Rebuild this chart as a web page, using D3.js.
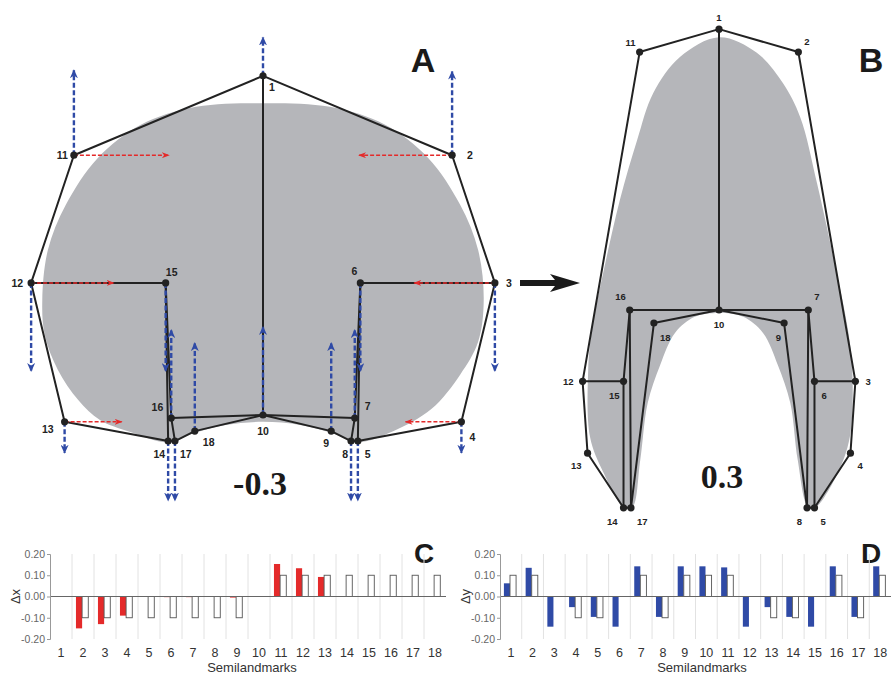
<!DOCTYPE html>
<html>
<head>
<meta charset="utf-8">
<script src="https://cdn.jsdelivr.net/npm/d3@7"></script>
<style>
  body { margin: 0; background: #fff; }
  text { font-family: "Liberation Sans", Arial, sans-serif; }
</style>
</head>
<body>
<div id="root"></div>
<script>
// ---- data ----
const semilandmarks = d3.range(1, 19).map(String);

// displacement of each semilandmark (shape units)
const deltaX = [0, -0.15, -0.13, -0.09, -0.001, -0.003, -0.003, -0.002, -0.005, 0, 0.153, 0.133, 0.092, -0.002, 0, 0.002, -0.002, 0.002];
const deltaY = [0.062, 0.135, -0.142, -0.05, -0.096, -0.142, 0.142, -0.096, 0.142, 0.142, 0.137, -0.142, -0.05, -0.096, -0.142, 0.142, -0.096, 0.142];
// reference (white) bars, null = no bar
const refX = [null, -0.1, -0.1, -0.1, -0.1, -0.1, -0.1, -0.1, -0.1, null, 0.1, 0.1, 0.1, 0.1, 0.1, 0.1, 0.1, 0.1];
const refY = [0.1, 0.1, null, -0.1, -0.1, null, 0.1, -0.1, 0.1, 0.1, 0.1, null, -0.1, -0.1, null, 0.1, -0.1, 0.1];
const yTicks = [-0.2, -0.1, 0, 0.1, 0.2];

// landmark configurations, shape units, landmark 10 at origin, y up
const shapeAx = [0, 0.305, 0.374, 0.320, 0.153, 0.157, 0.148, 0.142, 0.110, 0, -0.305, -0.374, -0.320, -0.153, -0.157, -0.148, -0.142, -0.110];
const shapeAy = [0.547, 0.419, 0.213, -0.011, -0.042, 0.213, -0.005, -0.042, -0.026, 0, 0.419, 0.213, -0.011, -0.042, 0.213, -0.005, -0.042, -0.026];
const shapeBx = [0, 0.128, 0.220, 0.212, 0.154, 0.154, 0.144, 0.142, 0.105, 0, -0.128, -0.220, -0.212, -0.154, -0.154, -0.144, -0.142, -0.105];
const shapeBy = [0.453, 0.416, -0.115, -0.231, -0.319, -0.115, 0, -0.319, -0.021, 0, 0.416, -0.115, -0.231, -0.319, -0.115, 0, -0.319, -0.021];

const links = [[1,2],[2,3],[3,4],[4,5],[5,8],[8,9],[9,10],[10,18],[18,17],[17,14],[14,13],[13,12],[12,11],[11,1],
  [1,10],[16,10],[10,7],[12,15],[15,16],[15,14],[16,17],[3,6],[6,7],[6,5],[7,8]];

// grey outlines (shape units)
const blobA = [[0,0.503],[0.108,0.497],[0.197,0.468],[0.266,0.415],[0.318,0.339],[0.347,0.266],[0.356,0.185],[0.347,0.118],
  [0.318,0.065],[0.272,0.010],[0.208,-0.027],[0.152,-0.044],[0.111,-0.029],[0.060,-0.016],[0,-0.011],[-0.060,-0.016],
  [-0.111,-0.029],[-0.153,-0.044],[-0.215,-0.027],[-0.263,-0.008],[-0.298,0.024],[-0.331,0.073],[-0.352,0.129],
  [-0.356,0.185],[-0.347,0.266],[-0.318,0.339],[-0.266,0.415],[-0.197,0.468],[-0.108,0.497]];
const blobB = [[0,0.440],[0.061,0.415],[0.103,0.366],[0.131,0.311],[0.158,0.205],[0.187,0.073],[0.208,-0.032],[0.215,-0.097],
  [0.211,-0.205],[0.190,-0.266],[0.155,-0.319],[0.144,-0.319],[0.127,-0.242],[0.115,-0.150],[0.095,-0.089],[0.071,-0.037],
  [0.039,-0.011],[0,-0.005],[-0.039,-0.011],[-0.071,-0.037],[-0.095,-0.089],[-0.115,-0.150],[-0.127,-0.242],[-0.140,-0.319],
  [-0.153,-0.319],[-0.187,-0.261],[-0.208,-0.205],[-0.211,-0.097],[-0.205,-0.032],[-0.185,0.068],[-0.160,0.177],
  [-0.132,0.274],[-0.106,0.350],[-0.063,0.408]];

// ---- layout ----
const W = 891, H = 677;
const PX = 620; // px per shape unit
const BLUE = '#2f4aa6', RED = '#e42a2a', GREY = '#b5b6ba', INK = '#222';

// label offsets [dx, dy, anchor]
const labA = {1:[6,15,'start'],2:[15,4,'start'],3:[11,4,'start'],4:[8,19,'start'],5:[7,17,'start'],6:[-6,-8,'middle'],
  7:[10,-8,'start'],8:[-3,17,'end'],9:[-2,16,'end'],10:[0,20,'middle'],11:[-6,4,'end'],12:[-8,4,'end'],13:[-11,11,'end'],
  14:[-3,17,'end'],15:[6,-7,'middle'],16:[-8,-7,'end'],17:[5,17,'start'],18:[8,15,'start']};
const labB = {1:[0,-8,'middle'],2:[6,-7,'start'],3:[10,4,'start'],4:[7,16,'start'],5:[6,17,'start'],6:[7,18,'start'],
  7:[6,-10,'start'],8:[-5,17,'end'],9:[-3,18,'end'],10:[0,18,'middle'],11:[-4,-6,'end'],12:[-9,4,'end'],13:[-6,16,'end'],
  14:[-6,17,'end'],15:[-4,18,'end'],16:[-4,-10,'end'],17:[6,17,'start'],18:[6,18,'start']};

const svg = d3.select('#root').append('svg')
  .attr('width', W).attr('height', H)
  .attr('xmlns', 'http://www.w3.org/2000/svg');

const defs = svg.append('defs');
function marker(id, color, w, h) {
  defs.append('marker')
    .attr('id', id).attr('markerUnits', 'userSpaceOnUse')
    .attr('viewBox', `0 ${-h / 2} ${w} ${h}`)
    .attr('refX', w - 1).attr('refY', 0)
    .attr('markerWidth', w).attr('markerHeight', h)
    .attr('orient', 'auto')
    .append('path')
    .attr('d', `M0,${-h / 2}L${w},0L0,${h / 2}L${w * 0.3},0Z`)
    .attr('fill', color);
}
marker('hb', BLUE, 9, 8);
marker('hr', RED, 8, 6);

function drawShape(cx, cy, xs, ys, blob, labels, fontSize, withArrows) {
  const x = d3.scaleLinear().domain([0, 1]).range([cx, cx + PX]);
  const y = d3.scaleLinear().domain([0, 1]).range([cy, cy - PX]);
  const g = svg.append('g');
  const pts = xs.map((v, i) => ({ id: i + 1, x: x(v), y: y(ys[i]) }));

  g.append('path')
    .attr('d', d3.line().x(d => x(d[0])).y(d => y(d[1])).curve(d3.curveCatmullRomClosed.alpha(0.5))(blob))
    .attr('fill', GREY);

  g.selectAll('line.link').data(links).join('line')
    .attr('class', 'link')
    .attr('x1', d => pts[d[0] - 1].x).attr('y1', d => pts[d[0] - 1].y)
    .attr('x2', d => pts[d[1] - 1].x).attr('y2', d => pts[d[1] - 1].y)
    .attr('stroke', INK).attr('stroke-width', 2).attr('stroke-linecap', 'round');

  if (withArrows) {
    pts.forEach((p, i) => {
      const vx = deltaX[i], vy = deltaY[i];
      if (vx !== 0) {
        const big = Math.abs(vx) > 0.02;
        g.append('line')
          .attr('x1', p.x).attr('y1', p.y)
          .attr('x2', x(xs[i] + vx)).attr('y2', p.y)
          .attr('stroke', RED).attr('stroke-width', 1.6)
          .attr('stroke-dasharray', big ? '4,2' : null)
          .attr('marker-end', big ? 'url(#hr)' : null);
      }
      if (vy !== 0) {
        g.append('line')
          .attr('x1', p.x).attr('y1', p.y)
          .attr('x2', p.x).attr('y2', y(ys[i] + vy))
          .attr('stroke', BLUE).attr('stroke-width', 2.4)
          .attr('stroke-dasharray', '5,2.5')
          .attr('marker-end', 'url(#hb)');
      }
    });
  }

  g.selectAll('circle').data(pts).join('circle')
    .attr('cx', d => d.x).attr('cy', d => d.y).attr('r', 3.6)
    .attr('fill', INK);

  g.selectAll('text.lab').data(pts).join('text')
    .attr('class', 'lab')
    .attr('x', d => d.x + labels[d.id][0])
    .attr('y', d => d.y + labels[d.id][1])
    .attr('text-anchor', d => labels[d.id][2])
    .attr('font-size', fontSize).attr('font-weight', 700).attr('fill', INK)
    .text(d => d.id);
}

drawShape(263, 415, shapeAx, shapeAy, blobA, labA, 10.5, true);
drawShape(719, 310, shapeBx, shapeBy, blobB, labB, 9.5, false);

// panel letters and shape scores
const bigLetter = (t, px, py, fs) => svg.append('text')
  .attr('x', px).attr('y', py).attr('text-anchor', 'middle')
  .attr('font-size', fs).attr('font-weight', 700).attr('fill', '#1a1a1a').text(t);
bigLetter('A', 423, 72, 34);
bigLetter('B', 871, 72, 34);
bigLetter('C', 424, 563, 28);
bigLetter('D', 871, 563, 28);

svg.append('text').attr('x', 260).attr('y', 495).attr('text-anchor', 'middle')
  .style('font-family', '"Liberation Serif", "DejaVu Serif", serif')
  .attr('font-size', 34).attr('font-weight', 700).attr('fill', '#1a1a1a').text('-0.3');
svg.append('text').attr('x', 722).attr('y', 488).attr('text-anchor', 'middle')
  .style('font-family', '"Liberation Serif", "DejaVu Serif", serif')
  .attr('font-size', 34).attr('font-weight', 700).attr('fill', '#1a1a1a').text('0.3');

// big arrow A -> B
svg.append('path')
  .attr('d', 'M520,280L555,280L550,274L580,283L550,292L555,286L520,286Z')
  .attr('fill', '#1a1a1a');

// ---- bar charts ----
function barChart(x0, x1, vals, refs, color, yLabel, xLabelX) {
  const top = 554, bottom = 639;
  const x = d3.scaleBand().domain(semilandmarks).range([x0, x1]).padding(0);
  const y = d3.scaleLinear().domain([-0.2, 0.2]).range([bottom, top]);
  const bw = x.bandwidth();
  const g = svg.append('g');

  // vertical grid at band boundaries
  g.selectAll('line.grid').data(semilandmarks.slice(1)).join('line')
    .attr('class', 'grid')
    .attr('x1', d => x(d)).attr('x2', d => x(d))
    .attr('y1', top).attr('y2', bottom)
    .attr('stroke', '#e2e2e2').attr('stroke-width', 1);

  g.selectAll('rect.v').data(vals).join('rect')
    .attr('class', 'v')
    .attr('x', (d, i) => x(semilandmarks[i]) + bw * 0.18)
    .attr('width', bw * 0.28)
    .attr('y', d => y(Math.max(0, d)))
    .attr('height', d => Math.abs(y(d) - y(0)))
    .attr('fill', color);

  g.selectAll('rect.r').data(refs).join('rect')
    .attr('class', 'r')
    .attr('x', (d, i) => x(semilandmarks[i]) + bw * 0.46)
    .attr('width', bw * 0.28)
    .attr('y', d => y(Math.max(0, d || 0)))
    .attr('height', d => d == null ? 0 : Math.abs(y(d) - y(0)))
    .attr('fill', '#fff')
    .attr('stroke', d => d == null ? 'none' : '#555')
    .attr('stroke-width', 0.9);

  // zero line
  g.append('line')
    .attr('x1', x0).attr('x2', x1).attr('y1', y(0)).attr('y2', y(0))
    .attr('stroke', '#666').attr('stroke-width', 1);

  const ay = g.append('g')
    .attr('transform', `translate(${x0},0)`)
    .call(d3.axisLeft(y).tickValues(yTicks).tickSize(3).tickPadding(2).tickFormat(d => d.toFixed(2)));
  ay.select('.domain').attr('stroke', '#999');
  ay.selectAll('.tick line').attr('stroke', '#999');
  ay.selectAll('.tick text').attr('fill', '#666').attr('font-size', 10.5)
    .style('font-family', '"Liberation Sans", Arial, sans-serif');

  const ax = g.append('g')
    .attr('transform', `translate(0,${bottom})`)
    .call(d3.axisBottom(x).tickSize(0).tickPadding(9));
  ax.select('.domain').remove();
  ax.selectAll('.tick text').attr('fill', '#333').attr('font-size', 12.5)
    .style('font-family', '"Liberation Sans", Arial, sans-serif');

  g.append('text')
    .attr('transform', `translate(${x0 - 35},${y(0)}) rotate(-90)`)
    .attr('text-anchor', 'middle').attr('dy', '0.35em')
    .attr('font-size', 13).attr('fill', '#333').text(yLabel);

  g.append('text')
    .attr('x', xLabelX).attr('y', 672).attr('text-anchor', 'middle')
    .attr('font-size', 13).attr('fill', '#333').text('Semilandmarks');
}

barChart(50, 446, deltaX, refX, RED, 'Δx', 252);
barChart(500, 891, deltaY, refY, BLUE, 'Δy', 702);
</script>
</body>
</html>
